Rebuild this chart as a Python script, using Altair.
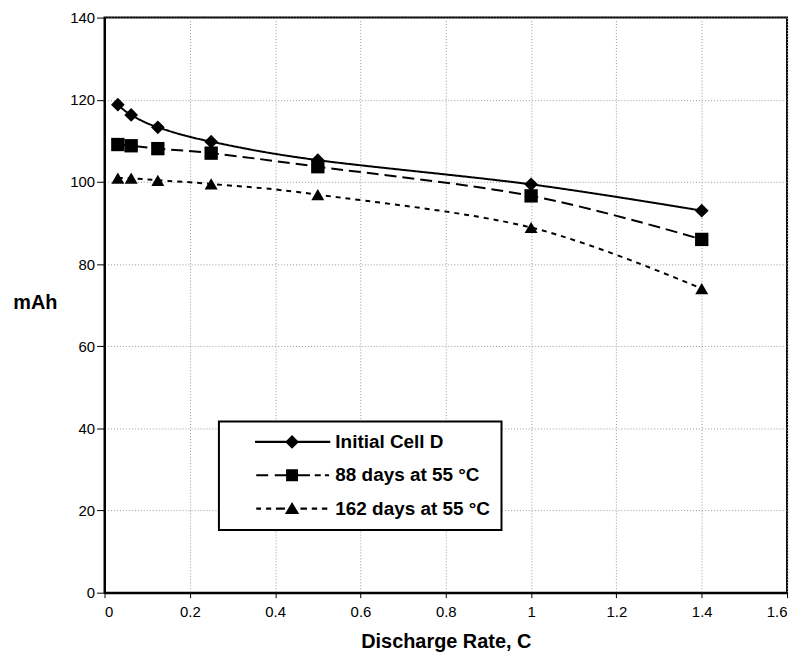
import altair as alt
import pandas as pd

rates = [0.03125, 0.0625, 0.125, 0.25, 0.5, 1.0, 1.4]
initial_cell = [118.8, 116.3, 113.3, 109.8, 105.3, 99.4, 93.0]
days_88 = [109.1, 108.8, 108.1, 107.0, 103.7, 96.6, 86.0]
days_162 = [100.9, 100.9, 100.4, 99.5, 96.9, 88.9, 74.0]
series_names = ["Initial Cell D", "88 days at 55 °C", "162 days at 55 °C"]
x_ticks = [0, 0.2, 0.4, 0.6, 0.8, 1.0, 1.2, 1.4, 1.6]
y_ticks = [0, 20, 40, 60, 80, 100, 120, 140]

rows = []
for name, vals in zip(series_names, [initial_cell, days_88, days_162]):
    for xv, yv in zip(rates, vals):
        rows.append({"rate": xv, "mAh": yv, "series": name})
df = pd.DataFrame(rows)

# legend symbols: line/dash segments plus marker (unit coordinates)
leg_initial = "M-6.2,-0.18H6.4V0.18H-6.2Z M0,-1.15L1.15,0L0,1.15L-1.15,0Z"
leg_88 = ("M-6,-0.18H-4V0.18H-6Z M-2.9,-0.18H-1V0.18H-2.9Z M-1,-1H1V1H-1Z "
          "M1,-0.18H3V0.18H1Z M3.8,-0.18H4.8V0.18H3.8Z M5.5,-0.18H6.2V0.18H5.5Z")
leg_162 = ("M-6,-0.18H-5.2V0.18H-6Z M-4.35,-0.18H-3.5V0.18H-4.35Z M-2.7,-0.18H-1.2V0.18H-2.7Z "
           "M0,-1.1L1.2,0.9L-1.2,0.9Z M1.4,-0.18H2.5V0.18H1.4Z M3.3,-0.18H4.2V0.18H3.3Z "
           "M5,-0.18H5.9V0.18H5Z")

font = "Liberation Sans"

x_enc = alt.X("rate:Q",
              scale=alt.Scale(domain=[0, 1.6], nice=False),
              axis=alt.Axis(values=x_ticks, format="~g", title="Discharge Rate, C",
                            tickSize=5, labelPadding=7, titlePadding=12))
y_enc = alt.Y("mAh:Q",
              scale=alt.Scale(domain=[0, 140], nice=False),
              axis=alt.Axis(values=y_ticks, title="mAh", titleAngle=0,
                            titleX=-70, titleY=286, titleAlign="center",
                            titleBaseline="middle", tickSize=8, labelPadding=2))

lines = alt.Chart(df).mark_line(color="black", strokeWidth=2, interpolate="cardinal").encode(
    x=x_enc, y=y_enc,
    strokeDash=alt.StrokeDash("series:N",
                              scale=alt.Scale(domain=series_names,
                                              range=[[1, 0], [12, 6], [5, 5]]),
                              legend=None),
    detail="series:N",
)

points = alt.Chart(df).mark_point(filled=True, color="black", opacity=1).encode(
    x="rate:Q", y="mAh:Q",
    shape=alt.Shape("series:N",
                    scale=alt.Scale(domain=series_names,
                                    range=["diamond", "square", "triangle-up"]),
                    legend=None),
    size=alt.Size("series:N",
                  scale=alt.Scale(domain=series_names, range=[190, 170, 240]),
                  legend=None),
)

legend_layer = alt.Chart(df).mark_point(filled=True, color="black", opacity=0, size=144).encode(
    x="rate:Q", y="mAh:Q",
    shape=alt.Shape("series:N",
                    scale=alt.Scale(domain=series_names,
                                    range=[leg_initial, leg_88, leg_162]),
                    legend=alt.Legend(title=None, orient="none",
                                      legendX=115, legendY=406,
                                      symbolSize=144, symbolOffset=53,
                                      labelOffset=34,
                                      symbolOpacity=1, symbolFillColor="black",
                                      symbolStrokeWidth=0,
                                      labelFont=font, labelFontSize=19,
                                      labelFontWeight="bold", labelColor="black",
                                      labelLimit=0, rowPadding=13.5,
                                      padding=11, strokeColor="black",
                                      fillColor="white", cornerRadius=0)),
)

chart = alt.layer(lines, points, legend_layer).resolve_scale(
    shape="independent", size="independent"
).properties(
    width=686, height=578,
    autosize=alt.AutoSizeParams(type="none"),
    padding={"left": 97, "top": 8, "right": 10, "bottom": 64},
).configure_view(
    stroke="black", strokeWidth=2
).configure_axis(
    labelFont=font, labelFontSize=15, labelColor="black",
    titleFont=font, titleFontSize=20, titleFontWeight="bold", titleColor="black",
    domainColor="black", domainWidth=2, tickColor="black", tickWidth=1,
    gridColor="#999999", gridDash=[1, 2], gridWidth=1,
).configure_legend(
    strokeWidth=2
)

chart.save("out.html", embed_options={"renderer": "svg", "actions": False})
